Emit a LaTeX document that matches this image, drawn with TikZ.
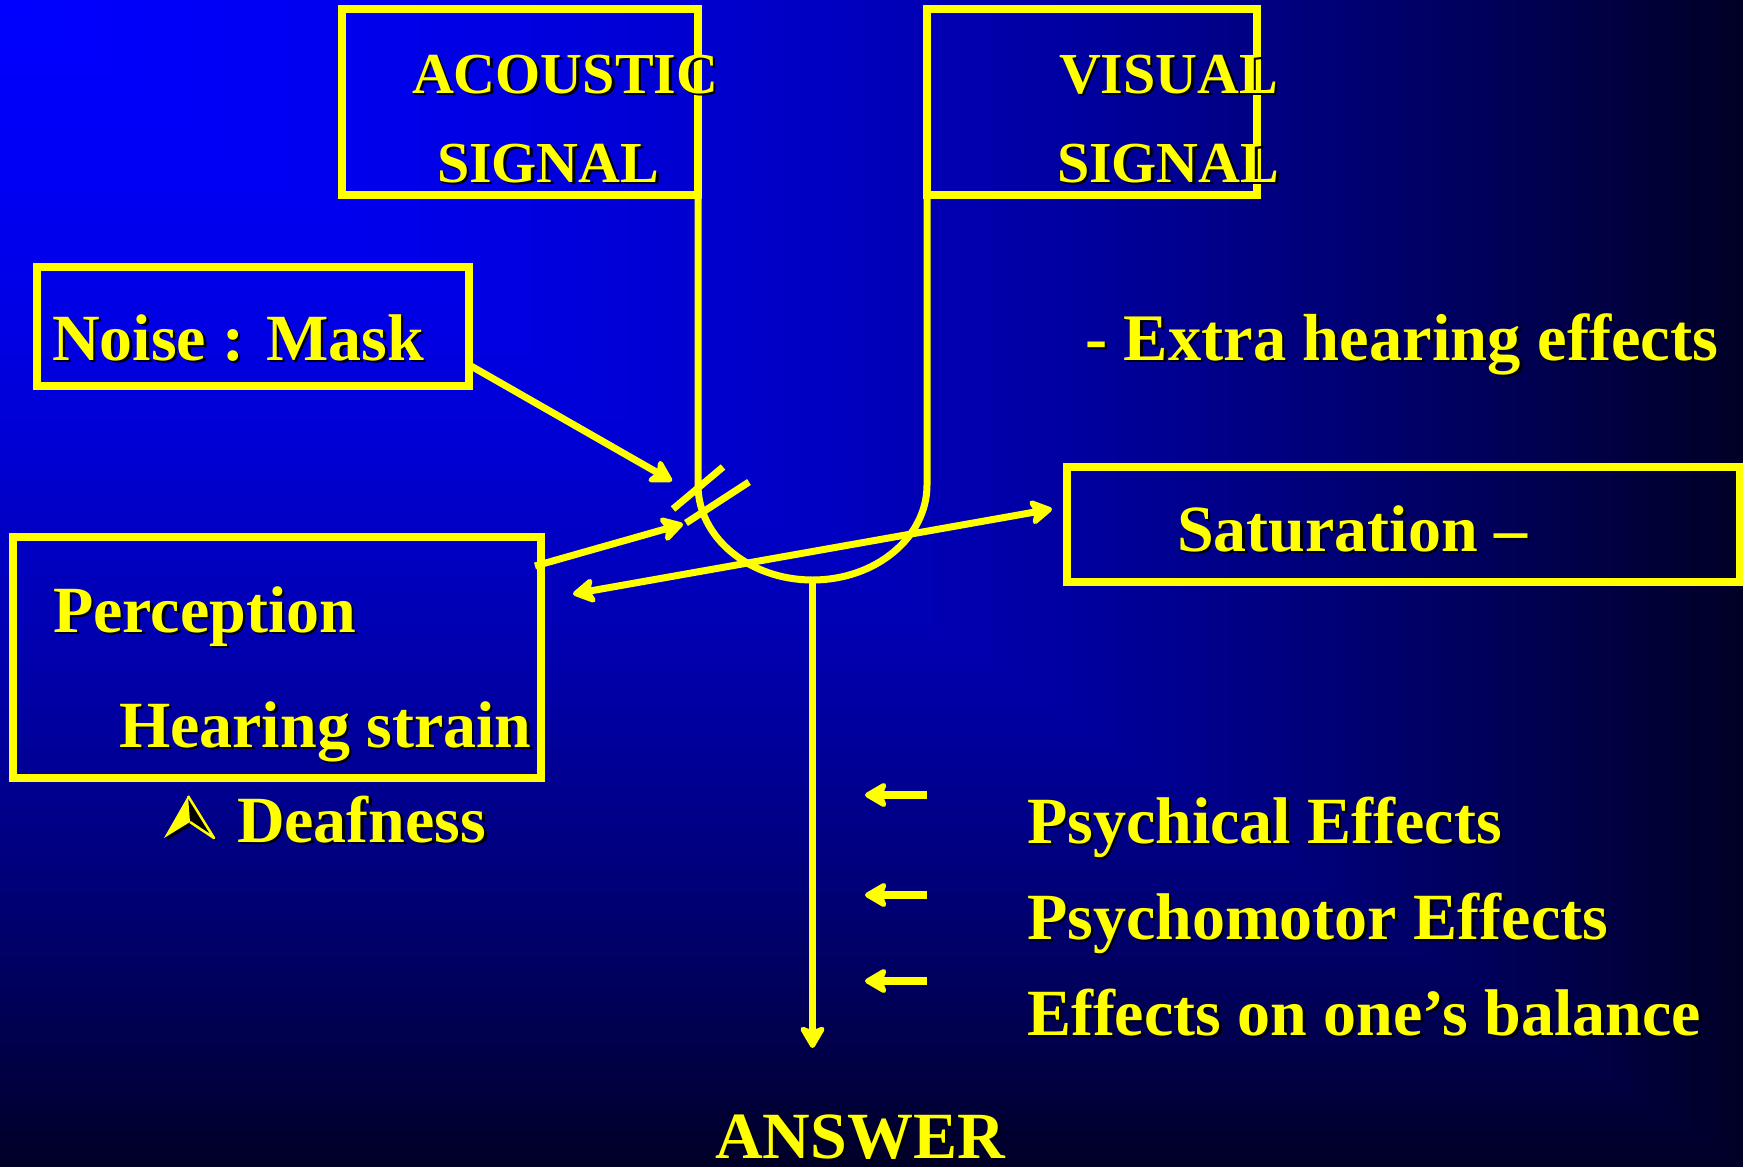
\documentclass[tikz,border=0pt]{standalone}
\usepackage{fontspec}
\setmainfont{Liberation Serif}
\usetikzlibrary{arrows.meta}
\definecolor{ylw}{RGB}{255,255,0}
\newcommand\shd[1]{\makebox[0pt][l]{\kern2.5pt\raisebox{-2.5pt}{\color{black}#1}}#1}
\tikzset{
  box/.style={draw=ylw, line width=7.5pt, rectangle, inner sep=0pt, outer sep=0pt},
  lbl/.style={text=ylw, anchor=base west, inner sep=0pt, outer sep=0pt, font=\bfseries\fontsize{66}{70}\selectfont},
  sml/.style={lbl, font=\bfseries\fontsize{58}{62}\selectfont},
  wire/.style={draw=ylw, line width=7pt},
  arr/.style={wire, ->},
  darr/.style={wire, <->},
}
\begin{document}
\begin{tikzpicture}[x=1pt, y=-1pt, >={Stealth[length=26pt, width=30pt, inset=6pt, round]}]
\useasboundingbox (0,0) rectangle (1743,1167);
% background: gradient from the top-left corner (rectangular contours)
\foreach \gi in {200,199,...,1}{
  \pgfmathsetmacro\gt{\gi/200}
  \pgfmathsetmacro\gb{(255-53*\gt-164*\gt*\gt)/255}
  \definecolor{bgc}{rgb}{0,0,\gb}
  \fill[bgc] (0,0) rectangle (\gt*1743+0.5, \gt*1167+0.5);
}

% boxes
\node[box, minimum width=356pt, minimum height=186pt] (acoustic) at (520,102) {};
\node[box, minimum width=330pt, minimum height=186pt] (visual) at (1092,102) {};
\node[box, minimum width=432pt, minimum height=119pt] (noise) at (253,326.5) {};
\node[box, minimum width=528pt, minimum height=241pt] (perception) at (277,657.5) {};
\node[box, minimum width=673pt, minimum height=115pt] (saturation) at (1403.5,524.5) {};

% U-shaped junction
\draw[wire] (acoustic.south east) -- ++(0,290)
  arc[start angle=180, end angle=0, x radius=114.5, y radius=95]
  -- (visual.south west);
\coordinate (ubot) at (812.5,580);
\coordinate (dtip) at (812.5,1048);
\draw[arr] (ubot) -- (dtip);

% noise arrow
\coordinate (nA) at (471,366);
\coordinate (nB) at (672,481);
\draw[arr] (nA) -- (nB);

% perception arrow
\coordinate (pA) at (535,566);
\coordinate (pB) at (683,524);
\draw[arr] (pA) -- (pB);

% double arrow
\coordinate (dL) at (573,594);
\coordinate (dR) at (1052,509);
\draw[darr] (dL) -- (dR);

% slashes
\coordinate (s1a) at (673,509);
\coordinate (s1b) at (723,467);
\coordinate (s2a) at (686,523);
\coordinate (s2b) at (749,482);
\draw[wire] (s1a) -- (s1b);
\draw[wire] (s2a) -- (s2b);

% small arrows
\coordinate (a1t) at (927,795);
\coordinate (a1h) at (865,795);
\coordinate (a2t) at (927,895);
\coordinate (a2h) at (865,895);
\coordinate (a3t) at (927,981);
\coordinate (a3h) at (865,981);
\draw[arr, line width=8pt] (a1t) -- (a1h);
\draw[arr, line width=8pt] (a2t) -- (a2h);
\draw[arr, line width=8pt] (a3t) -- (a3h);

% deafness symbol
\fill[black] (190.5,798.5) -- (166.5,840.5) -- (192.5,824.5) -- (216.5,840.5) -- cycle;
\fill[ylw] (188,796) -- (164,838) -- (190,822) -- cycle;
\draw[ylw, line width=2.5pt, line join=round] (188,796) -- (214,838) -- (190,822);

% texts
\node[sml] (t1) at (412,93) {\shd{ACOUSTIC}};
\node[sml] (t2) at (437,182) {\shd{SIGNAL}};
\node[sml] (t3) at (1059,93) {\shd{VISUAL}};
\node[sml] (t4) at (1057,182) {\shd{SIGNAL}};
\node[lbl] (t5) at (52,360) {\shd{Noise : Mask}};
\node[lbl, font=\bfseries\fontsize{66.5}{70}\selectfont] (t6) at (1085,360) {\shd{- Extra hearing effects}};
\node[lbl] (t7) at (1177,551) {\shd{Saturation –}};
\node[lbl] (t8) at (53,632) {\shd{Perception}};
\node[lbl] (t9) at (119,747) {\shd{Hearing strain}};
\node[lbl] (t10) at (237,842) {\shd{Deafness}};
\node[lbl] (t11) at (1027,843) {\shd{Psychical Effects}};
\node[lbl] (t12) at (1027,939) {\shd{Psychomotor Effects}};
\node[lbl] (t13) at (1027,1035) {\shd{Effects on one’s balance}};
\node[lbl] (t14) at (715,1158) {\shd{ANSWER}};
\end{tikzpicture}
\end{document}
